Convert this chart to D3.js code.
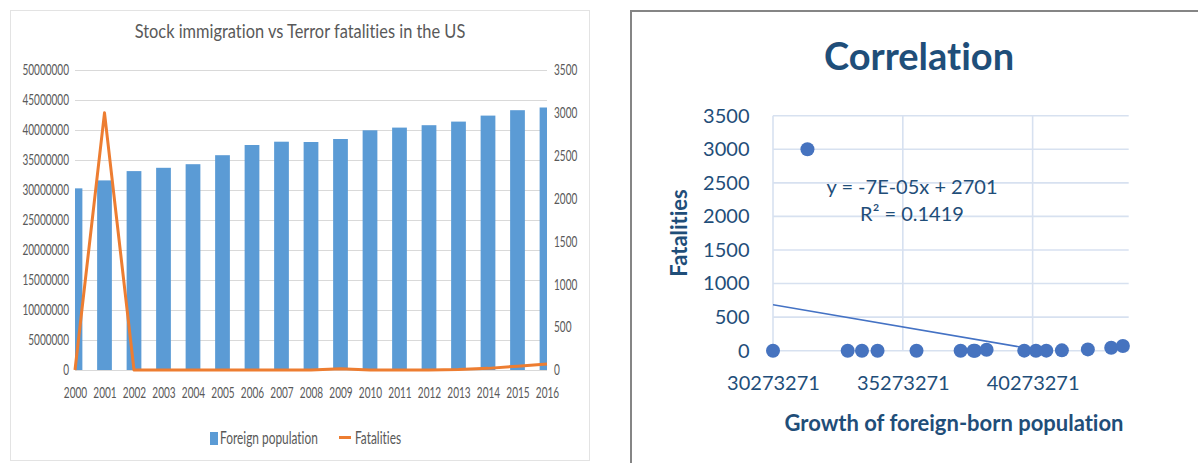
<!DOCTYPE html>
<html>
<head>
<meta charset="utf-8">
<script src="https://cdn.jsdelivr.net/npm/d3@7"></script>
<style>
  html, body { margin: 0; padding: 0; background: #fff; }
  svg { display: block; }
  text { font-family: Lato, "Open Sans", "Noto Sans", sans-serif; font-variant-ligatures: none; }
</style>
</head>
<body>
<svg id="chart" width="1198" height="463"></svg>
<script>
// ---- data ----
const years = [2000, 2001, 2002, 2003, 2004, 2005, 2006, 2007, 2008,
               2009, 2010, 2011, 2012, 2013, 2014, 2015, 2016];
const foreignPopulation = [30273271, 31600000, 33150000, 33700000, 34300000,
                           35800000, 37500000, 38050000, 38000000, 38500000,
                           39950000, 40400000, 40800000, 41400000, 42400000,
                           43300000, 43750000];
const fatalities = [0, 3000, 0, 0, 0, 0, 0, 0, 0, 14, 1, 0, 1, 5, 19, 45, 70];

const populationTicks = [0, 5000000, 10000000, 15000000, 20000000, 25000000,
                         30000000, 35000000, 40000000, 45000000, 50000000];
const fatalityTicks = [0, 500, 1000, 1500, 2000, 2500, 3000, 3500];
const scatterXTicks = [30273271, 35273271, 40273271];
const trendLabels = ["y = -7E-05x + 2701", "R\u00B2 = 0.1419"];

const svg = d3.select("#chart");
const defs = svg.append("defs");

// horizontally condense text by factor k (narrow, tall lettering)
function squeeze(sel, k) {
  sel.each(function () {
    const x = +this.getAttribute("x") || 0;
    d3.select(this).attr("x", x / k).attr("transform", `scale(${k},1)`);
  });
}

// =================== Left: combo bar + line chart ===================
const gL = svg.append("g");
gL.append("rect").attr("x", 10.5).attr("y", 10.5).attr("width", 579).attr("height", 450)
  .attr("fill", "#fff").attr("stroke", "#e3e3e3");

const xL = d3.scalePoint().domain(years).range([75, 547]);
const yL = d3.scaleLinear().domain([0, 50000000]).range([370, 70]);
const yR = d3.scaleLinear().domain([0, 3500]).range([370, 70]);
const barW = xL.step() * 0.5;

gL.append("text").attr("x", 300).attr("y", 38.5).attr("text-anchor", "middle")
  .attr("font-size", 20).attr("fill", "#595959")
  .text("Stock immigration vs Terror fatalities in the US")
  .call(squeeze, 0.82);

// gridlines
gL.append("g").selectAll("line").data(populationTicks).join("line")
  .attr("x1", 75).attr("x2", 547)
  .attr("y1", d => yL(d) + 0.5).attr("y2", d => yL(d) + 0.5)
  .attr("stroke", "#d9d9d9").attr("stroke-width", 1);

defs.append("clipPath").attr("id", "clipL")
  .append("rect").attr("x", 75).attr("y", 60).attr("width", 472).attr("height", 311);

gL.append("g").attr("clip-path", "url(#clipL)")
  .selectAll("rect").data(years).join("rect")
  .attr("x", (d) => xL(d) - barW / 2)
  .attr("width", barW)
  .attr("y", (d, i) => yL(foreignPopulation[i]))
  .attr("height", (d, i) => yL(0) - yL(foreignPopulation[i]))
  .attr("fill", "#5b9bd5");

gL.append("path")
  .datum(years.map((y, i) => [y, fatalities[i]]))
  .attr("d", d3.line().x(d => xL(d[0])).y(d => yR(d[1])))
  .attr("fill", "none").attr("stroke", "#ed7d31").attr("stroke-width", 3)
  .attr("stroke-linejoin", "round");

function styleLeftAxis(g) {
  g.select(".domain").remove();
  g.selectAll("text").attr("font-size", 15).attr("fill", "#595959")
    .attr("font-family", "Lato, 'Open Sans', sans-serif").call(squeeze, 0.67);
}

gL.append("g").attr("transform", "translate(75,0)")
  .call(d3.axisLeft(yL).tickValues(populationTicks).tickSize(0).tickPadding(6).tickFormat(d3.format("d")))
  .call(styleLeftAxis);

gL.append("g").attr("transform", "translate(547,0)")
  .call(d3.axisRight(yR).tickValues(fatalityTicks).tickSize(0).tickPadding(7).tickFormat(d3.format("d")))
  .call(styleLeftAxis);

gL.append("g").attr("transform", "translate(0,370)")
  .call(d3.axisBottom(xL).tickSize(0).tickPadding(17).tickFormat(d3.format("d")))
  .call(styleLeftAxis);

// legend
const lg = gL.append("g");
lg.append("rect").attr("x", 210).attr("y", 432).attr("width", 8).attr("height", 13).attr("fill", "#5b9bd5");
lg.append("text").attr("x", 220).attr("y", 444).attr("font-size", 17).attr("fill", "#595959")
  .text("Foreign population").call(squeeze, 0.7);
lg.append("line").attr("x1", 339).attr("x2", 351).attr("y1", 437.5).attr("y2", 437.5)
  .attr("stroke", "#ed7d31").attr("stroke-width", 3);
lg.append("text").attr("x", 355).attr("y", 444).attr("font-size", 17).attr("fill", "#595959")
  .text("Fatalities").call(squeeze, 0.7);

// =================== Right: scatter with linear trend ===================
const gR = svg.append("g");
const ink = "#1f4e79";
gR.append("path").attr("d", "M631,463V11H1198")
  .attr("fill", "none").attr("stroke", "#858585").attr("stroke-width", 2);

gR.append("text").attr("x", 919).attr("y", 70).attr("text-anchor", "middle")
  .attr("font-size", 38).attr("font-weight", "bold").attr("fill", ink).text("Correlation");

const xS = d3.scaleLinear().domain([30273271, 43973271]).range([773, 1128.7]);
const yS = d3.scaleLinear().domain([0, 3500]).range([350.7, 115.7]);
const gridColor = "#d7e1f0";

gR.append("g").selectAll("line").data(fatalityTicks).join("line")
  .attr("x1", xS.range()[0]).attr("x2", xS.range()[1])
  .attr("y1", d => yS(d)).attr("y2", d => yS(d))
  .attr("stroke", gridColor).attr("stroke-width", 1.6);
gR.append("g").selectAll("line").data(scatterXTicks).join("line")
  .attr("x1", d => xS(d)).attr("x2", d => xS(d))
  .attr("y1", yS(3500)).attr("y2", yS(0))
  .attr("stroke", gridColor).attr("stroke-width", 1.6);

function styleRightAxis(g) {
  g.select(".domain").remove();
  g.selectAll("text").attr("font-size", 20).attr("fill", ink)
    .attr("font-family", "Lato, 'Open Sans', sans-serif");
}
gR.append("g").attr("transform", `translate(${xS.range()[0]},0)`)
  .call(d3.axisLeft(yS).tickValues(fatalityTicks).tickSize(0).tickPadding(23.5).tickFormat(d3.format("d")))
  .call(styleRightAxis);
gR.append("g").attr("transform", `translate(0,${yS(0)})`)
  .call(d3.axisBottom(xS).tickValues(scatterXTicks).tickSize(0).tickPadding(25).tickFormat(d3.format("d")))
  .call(styleRightAxis);

gR.append("text").attr("x", 954).attr("y", 431).attr("text-anchor", "middle")
  .attr("font-size", 22).attr("font-weight", "bold").attr("fill", ink)
  .text("Growth of foreign-born population");
gR.append("text").attr("transform", "translate(687,233) rotate(-90)").attr("text-anchor", "middle")
  .attr("font-size", 22).attr("font-weight", "bold").attr("fill", ink)
  .text("Fatalities");

// least-squares trend line
const mx = d3.mean(foreignPopulation), my = d3.mean(fatalities);
let sxy = 0, sxx = 0;
foreignPopulation.forEach((x, i) => { sxy += (x - mx) * (fatalities[i] - my); sxx += (x - mx) ** 2; });
const slope = sxy / sxx, intercept = my - slope * mx;
const [x0, x1] = d3.extent(foreignPopulation);

defs.append("clipPath").attr("id", "clipS")
  .append("rect").attr("x", xS.range()[0]).attr("y", yS(3500))
  .attr("width", xS.range()[1] - xS.range()[0]).attr("height", yS(0) - yS(3500));

gR.append("line").attr("clip-path", "url(#clipS)")
  .attr("x1", xS(x0)).attr("y1", yS(intercept + slope * x0))
  .attr("x2", xS(x1)).attr("y2", yS(intercept + slope * x1))
  .attr("stroke", "#4472c4").attr("stroke-width", 1.5);

gR.append("g").selectAll("circle").data(foreignPopulation).join("circle")
  .attr("cx", d => xS(d)).attr("cy", (d, i) => yS(fatalities[i]))
  .attr("r", 7).attr("fill", "#4673bf");

gR.append("g").selectAll("text").data(trendLabels).join("text")
  .attr("x", 912).attr("y", (d, i) => 194 + i * 26.7).attr("text-anchor", "middle")
  .attr("font-size", 20).attr("fill", ink).text(d => d);
</script>
</body>
</html>
